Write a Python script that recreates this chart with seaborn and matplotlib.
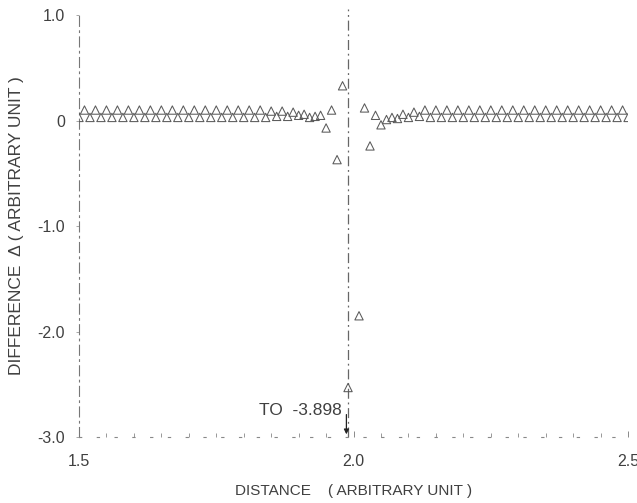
import numpy as np
import pandas as pd
import matplotlib
matplotlib.use("Agg")
import matplotlib.pyplot as plt
import seaborn as sns

# Sample positions along the distance axis (step 0.01 from 1.50 to 2.50)
distance = [round(1.50 + 0.01 * i, 2) for i in range(101)]

# Difference values at each position
delta = [
    0.03, 0.10, 0.03, 0.10, 0.03, 0.10, 0.03, 0.10, 0.03, 0.10,   # 1.50-1.59
    0.03, 0.10, 0.03, 0.10, 0.03, 0.10, 0.03, 0.10, 0.03, 0.10,   # 1.60-1.69
    0.03, 0.10, 0.03, 0.10, 0.03, 0.10, 0.03, 0.10, 0.03, 0.10,   # 1.70-1.79
    0.03, 0.10, 0.03, 0.10, 0.03, 0.09, 0.04, 0.09, 0.04, 0.08,   # 1.80-1.89
    0.05, 0.06, 0.03, 0.04, 0.05, -0.07, 0.10, -0.37, 0.33, -2.53,  # 1.90-1.99
    -3.898, -1.85, 0.12, -0.24, 0.05, -0.04, 0.01, 0.03, 0.02, 0.06,  # 2.00-2.09
    0.03, 0.08, 0.04, 0.10, 0.03, 0.10, 0.03, 0.10, 0.03, 0.10,   # 2.10-2.19
    0.03, 0.10, 0.03, 0.10, 0.03, 0.10, 0.03, 0.10, 0.03, 0.10,   # 2.20-2.29
    0.03, 0.10, 0.03, 0.10, 0.03, 0.10, 0.03, 0.10, 0.03, 0.10,   # 2.30-2.39
    0.03, 0.10, 0.03, 0.10, 0.03, 0.10, 0.03, 0.10, 0.03, 0.10,   # 2.40-2.49
    0.03,                                                         # 2.50
]

x_ticks = [1.5, 2.0, 2.5]
x_tick_labels = ["1.5", "2.0", "2.5"]
y_ticks = [1.0, 0.0, -1.0, -2.0, -3.0]
y_tick_labels = ["1.0", "0", "-1.0", "-2.0", "-3.0"]

boundary_x = 1.99
offscale_x = 1.99
offscale_value = -3.898

df = pd.DataFrame({"distance": distance, "delta": delta})

sns.set_theme(style="white")
plt.rcParams["font.family"] = ["Liberation Sans", "DejaVu Sans"]

ink = "#404040"
fig = plt.figure(figsize=(6.37, 5.03), dpi=100)
ax = fig.add_axes([0.124, 0.131, 0.862, 0.839])

visible = df[df["delta"] >= -3.0]
sns.scatterplot(data=visible, x="distance", y="delta", ax=ax, marker="^",
                s=36, facecolors="none", edgecolor="#5a5a5a", linewidth=0.75,
                legend=False, zorder=3)

ax.set_xlim(1.5, 2.5)
ax.set_ylim(-3.0, 1.0)

# Vertical reference line at the boundary
ax.plot([boundary_x, boundary_x], [-3.0, 1.06], color="#666666", lw=0.9,
        linestyle=(0, (8, 3, 1.5, 3)), clip_on=False, zorder=2)

# Off-scale point marked by an arrow
ax.annotate("", xy=(offscale_x - 0.003, -3.0), xytext=(offscale_x - 0.003, -2.76),
            arrowprops=dict(arrowstyle="-|>", color="#222222", lw=0.9,
                            mutation_scale=7), annotation_clip=False)
ax.text(offscale_x - 0.012, -2.75, f"TO  {offscale_value:.3f}", ha="right",
        va="center", fontsize=12.5, color=ink)

# Axes styling
for side in ["top", "right"]:
    ax.spines[side].set_visible(False)
ax.spines["left"].set_linestyle((0, (9, 4, 1.5, 4)))
ax.spines["left"].set_color("#777777")
ax.spines["left"].set_linewidth(0.8)
ax.spines["bottom"].set_linestyle((0, (2, 14)))
ax.spines["bottom"].set_color("#888888")
ax.spines["bottom"].set_linewidth(0.8)

ax.set_xticks(x_ticks)
ax.set_xticklabels(x_tick_labels)
ax.set_yticks(y_ticks)
ax.set_yticklabels(y_tick_labels)
ax.xaxis.set_minor_locator(matplotlib.ticker.MultipleLocator(0.05))
ax.tick_params(axis="x", which="major", direction="in", length=4, width=0.6,
               color="#777777", pad=12, labelsize=11.5, labelcolor=ink, bottom=True)
ax.tick_params(axis="x", which="minor", direction="in", length=3, width=0.6,
               color="#888888", bottom=True)
ax.tick_params(axis="y", which="major", direction="out", length=2, width=0.6,
               color="#999999", pad=8, labelsize=11.5, labelcolor=ink, left=True)

ax.set_xlabel("DISTANCE    ( ARBITRARY UNIT )", fontsize=11, color=ink, labelpad=11)
ax.set_ylabel("DIFFERENCE  Δ ( ARBITRARY UNIT )", fontsize=12.5, color=ink, labelpad=10)
ax.grid(False)

fig.savefig("out.png", dpi=100, facecolor="white")
